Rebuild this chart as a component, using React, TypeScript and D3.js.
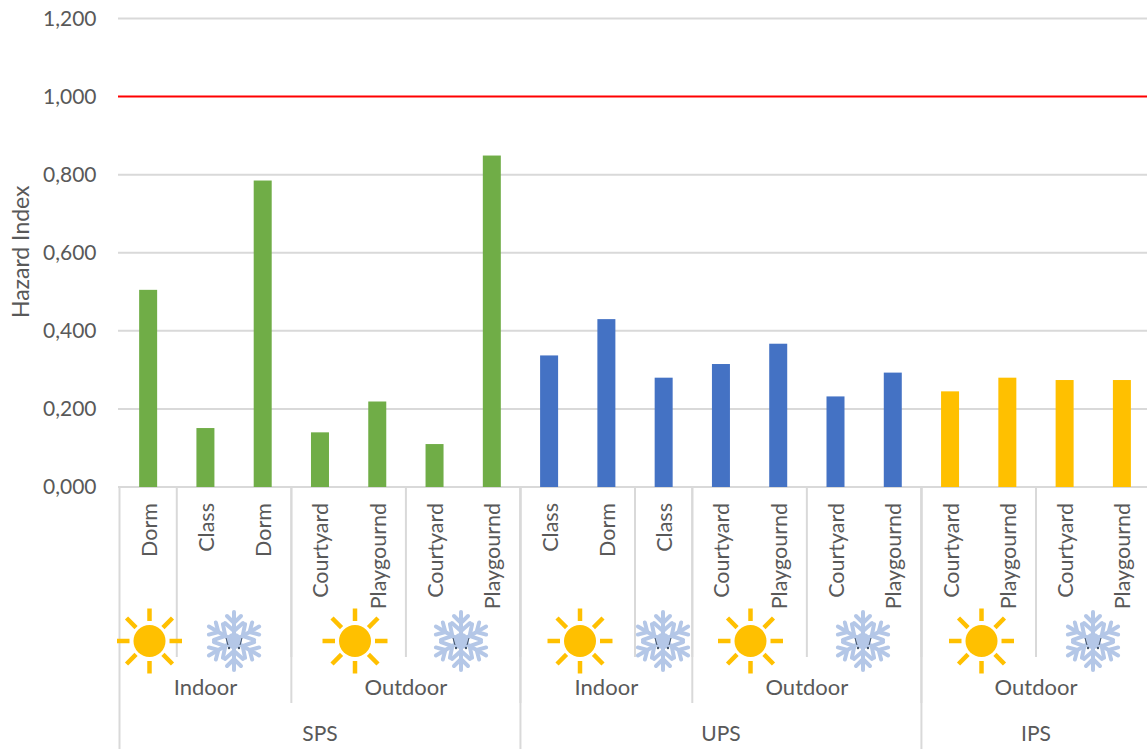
import * as d3 from "d3";

const categories = [
  "Dorm", "Class", "Dorm", "Courtyard", "Playgournd", "Courtyard", "Playgournd",
  "Class", "Dorm", "Class", "Courtyard", "Playgournd", "Courtyard", "Playgournd",
  "Courtyard", "Playgournd", "Courtyard", "Playgournd",
];
const hazardIndex = [
  0.505, 0.151, 0.785, 0.14, 0.219, 0.11, 0.849,
  0.337, 0.43, 0.28, 0.315, 0.367, 0.232, 0.293,
  0.245, 0.28, 0.274, 0.274,
];
const yTicks = [0, 0.2, 0.4, 0.6, 0.8, 1.0, 1.2];
const limitValue = 1.0;

const sites = ["SPS", "UPS", "IPS"];
const siteSizes = [7, 7, 4];
const siteColors = ["#70AD47", "#4472C4", "#FFC000"];

const settings = ["Indoor", "Outdoor", "Indoor", "Outdoor", "Outdoor"];
const settingSizes = [3, 4, 3, 4, 4];

// how many categories each season bracket holds (summer, winter, summer, ...)
const seasonSizes = [1, 2, 2, 2, 2, 1, 2, 2, 2, 2];

// the pasted icons do not sit exactly on the bracket centres
const sunX = [149.5, 355, 580, 750.5, 981.5];
const snowX = [234, 461, 663, 863, 1093];

const width = 1147;
const height = 749;
const marginLeft = 119.5;
const bandStep = 57.28;
const y0 = 487;
const y12 = 18.5;
const iconY = 641;

const font = "Lato, Carlito, sans-serif";
const textColor = "#595959";
const gridColor = "#D9D9D9";

const x = d3.scaleBand<number>()
  .domain(d3.range(categories.length))
  .range([marginLeft, marginLeft + bandStep * categories.length]);

const y = d3.scaleLinear().domain([0, 1.2]).range([y0, y12]);

const fmt = (d: number) => d3.format(".3f")(d).replace(".", ",");

// turn group sizes into [startIndex, endIndex) pairs
const spans = (sizes: number[]) => {
  const ends = d3.cumsum(sizes);
  return sizes.map((s, i) => [ends[i] - s, ends[i]]);
};
const edge = (i: number) => marginLeft + x.step() * i;

const siteSpans = spans(siteSizes);
const settingSpans = spans(settingSizes);
const seasonSpans = spans(seasonSizes);

const barColor = (i: number) =>
  siteColors[siteSpans.findIndex(([a, b]) => i >= a && i < b)];

const Sun = ({ cx }: { cx: number }) => (
  <g transform={`translate(${cx},${iconY})`}>
    <circle r={16} fill="#FFC000" />
    {d3.range(8).map(k => (
      <line
        key={k}
        x1={0}
        y1={k % 2 ? -19 : -20}
        x2={0}
        y2={-32.5}
        stroke="#FFC000"
        strokeWidth={4.5}
        transform={`rotate(${k * 45})`}
      />
    ))}
  </g>
);

const Snow = ({ cx }: { cx: number }) => (
  <g transform={`translate(${cx},${iconY})`}>
    {d3.range(6).map(k => (
      <g key={k} transform={`rotate(${k * 60})`} stroke="#B4C7E7" strokeWidth={4} fill="none" strokeLinecap="round">
        <line x1={0} y1={0} x2={0} y2={-29} />
        <path d="M-7,-25 L0,-18 L7,-25" />
        <path d="M-9,-18 L0,-10 L9,-18" />
      </g>
    ))}
    <circle r={8} fill="#B4C7E7" />
    <circle cx={-5} cy={7} r={1.2} fill="#44546A" />
    <circle cx={5} cy={7} r={1.2} fill="#44546A" />
    <line x1={-8} y1={-3} x2={-6} y2={4} stroke="#44546A" strokeWidth={1} />
    <line x1={8} y1={-3} x2={6} y2={4} stroke="#44546A" strokeWidth={1} />
  </g>
);

export default function App() {
  return (
    <svg
      width={width}
      height={height}
      viewBox={`0 0 ${width} ${height}`}
      style={{ position: "absolute", left: 0, top: 0, background: "#fff", fontFamily: font }}
    >
      {yTicks.map(t => (
        <g key={t}>
          <line x1={118} x2={width} y1={y(t)} y2={y(t)} stroke={t === limitValue ? "#FF0000" : gridColor} strokeWidth={2} />
          <text x={96.5} y={y(t)} dy="0.35em" textAnchor="end" fontSize={21} fill={textColor}>
            {fmt(t)}
          </text>
        </g>
      ))}

      <text
        transform={`translate(29,${y(0.6) - 1}) rotate(-90)`}
        textAnchor="middle"
        fontSize={23}
        fill={textColor}
      >
        Hazard Index
      </text>

      {hazardIndex.map((v, i) => (
        <rect
          key={i}
          x={(x(i) ?? 0) + x.bandwidth() / 2 - 9}
          y={y(v)}
          width={18}
          height={y0 - y(v)}
          fill={barColor(i)}
        />
      ))}

      {/* season separators */}
      {seasonSpans.slice(0, -1).map(([, b]) => (
        <line key={b} x1={edge(b)} x2={edge(b)} y1={y0} y2={657} stroke={gridColor} strokeWidth={2} />
      ))}
      {/* setting separators */}
      {settingSpans.slice(0, -1).map(([, b]) => (
        <line key={b} x1={edge(b)} x2={edge(b)} y1={y0} y2={703} stroke={gridColor} strokeWidth={2} />
      ))}
      {/* site separators */}
      {siteSpans.map(([a]) => (
        <line key={a} x1={edge(a)} x2={edge(a)} y1={y0} y2={height} stroke={gridColor} strokeWidth={2} />
      ))}

      {categories.map((c, i) => (
        <text
          key={i}
          transform={`translate(${(x(i) ?? 0) + x.bandwidth() / 2 + 8.5},503) rotate(-90)`}
          textAnchor="end"
          fontSize={21.5}
          fill={textColor}
        >
          {c}
        </text>
      ))}

      {sunX.map(cx => <Sun key={cx} cx={cx} />)}
      {snowX.map(cx => <Snow key={cx} cx={cx} />)}

      {settings.map((s, i) => (
        <text
          key={i}
          x={(edge(settingSpans[i][0]) + edge(settingSpans[i][1])) / 2}
          y={695}
          textAnchor="middle"
          fontSize={22}
          fill={textColor}
        >
          {s}
        </text>
      ))}

      {sites.map((s, i) => (
        <text
          key={s}
          x={(edge(siteSpans[i][0]) + edge(siteSpans[i][1])) / 2}
          y={741}
          textAnchor="middle"
          fontSize={21}
          fill={textColor}
        >
          {s}
        </text>
      ))}
    </svg>
  );
}
